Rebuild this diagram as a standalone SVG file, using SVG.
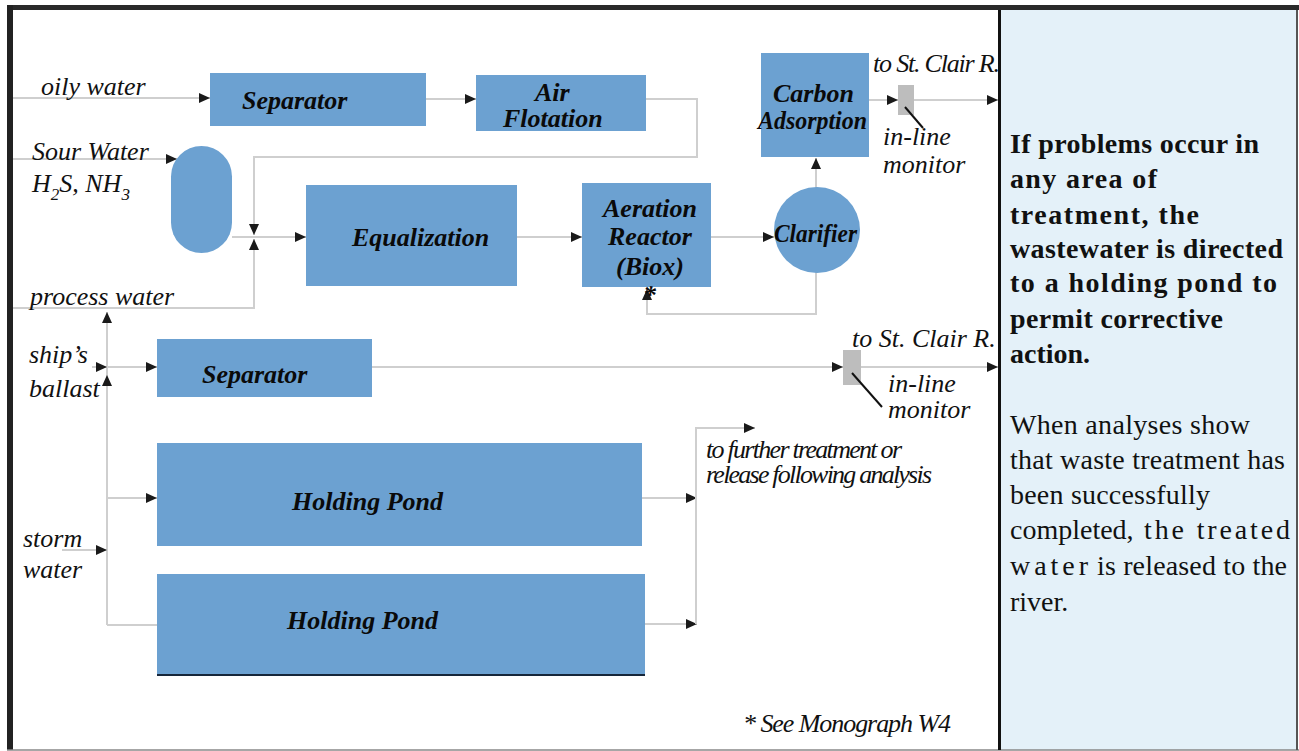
<svg xmlns="http://www.w3.org/2000/svg" width="1299" height="751" viewBox="0 0 1299 751">
<style>
.box{fill:#6ca1d1}
.ln{fill:none;stroke:#cfcfcf;stroke-width:2}
.ptr{fill:none;stroke:#111;stroke-width:2}
.lbl{font-family:"Liberation Serif","Times New Roman",serif;font-style:italic;font-size:26px;fill:#111}
.bi{font-family:"Liberation Serif","Times New Roman",serif;font-style:italic;font-weight:bold;font-size:26px;fill:#0a0a0a}
.pb{font-family:"Liberation Serif","Times New Roman",serif;font-weight:bold;font-size:28px;fill:#111}
.pr{font-family:"Liberation Serif","Times New Roman",serif;font-size:28px;fill:#111}
.mon{fill:#bdbdbd}
</style>
<defs>
<marker id="ah" markerUnits="userSpaceOnUse" markerWidth="12" markerHeight="10" refX="11" refY="5" orient="auto">
<path d="M0,0 L11,5 L0,10 z" fill="#1a1a1a"/>
</marker>
</defs>
<rect x="0" y="0" width="1299" height="751" fill="#ffffff"/>
<g id="frame">
<rect x="999" y="10" width="298" height="740" fill="#e4f1f9"/>
<rect x="7" y="5" width="1292" height="5" fill="#2a2a2a"/>
<rect x="7" y="5" width="6" height="745" fill="#222"/>
<line x1="7" y1="750" x2="1299" y2="750" stroke="#888" stroke-width="1.5"/>
<line x1="999.5" y1="10" x2="999.5" y2="750" stroke="#111" stroke-width="3"/>
<line x1="1297" y1="10" x2="1297" y2="750" stroke="#555" stroke-width="2"/>
</g>
<g id="connectors">
<path class="ln" d="M13,98 H210" marker-end="url(#ah)"/>
<path class="ln" d="M426,99 H476" marker-end="url(#ah)"/>
<path class="ln" d="M646,99 H697 V157 H254 V235" marker-end="url(#ah)"/>
<path class="ln" d="M13,308 H254 V239" marker-end="url(#ah)"/>
<path class="ln" d="M13,159 H177" marker-end="url(#ah)"/>
<path class="ln" d="M232,237 H306" marker-end="url(#ah)"/>
<path class="ln" d="M517,237 H582" marker-end="url(#ah)"/>
<path class="ln" d="M711,237 H774" marker-end="url(#ah)"/>
<path class="ln" d="M816,188 V158" marker-end="url(#ah)"/>
<path class="ln" d="M816,272 V314 H647 V289" marker-end="url(#ah)"/>
<path class="ln" d="M869,100 H898" marker-end="url(#ah)"/>
<path class="ln" d="M914,100 H998" marker-end="url(#ah)"/>
<path class="ln" d="M107,625 V312" marker-end="url(#ah)"/>
<path class="ln" d="M107,386 V375" marker-end="url(#ah)"/>
<path class="ln" d="M92,367 H107" marker-end="url(#ah)"/>
<path class="ln" d="M107,367 H157" marker-end="url(#ah)"/>
<path class="ln" d="M107,498 H157" marker-end="url(#ah)"/>
<path class="ln" d="M107,625 H157"/>
<path class="ln" d="M62,550 H107" marker-end="url(#ah)"/>
<path class="ln" d="M372,367 H843" marker-end="url(#ah)"/>
<path class="ln" d="M861,367 H998" marker-end="url(#ah)"/>
<path class="ln" d="M642,498 H697" marker-end="url(#ah)"/>
<path class="ln" d="M645,624 H697" marker-end="url(#ah)"/>
<path class="ln" d="M696,624 V428 H755" marker-end="url(#ah)"/>
</g>
<g id="separator1"><rect class="box" x="210" y="73" width="216" height="53"/><text class="bi" x="242" y="109">Separator</text></g>
<g id="air-flotation"><rect class="box" x="476" y="75" width="170" height="56"/><text class="bi" x="535" y="101">Air</text><text class="bi" x="503" y="127">Flotation</text></g>
<g id="carbon-adsorption"><rect class="box" x="761" y="53" width="108" height="104"/><text class="bi" x="773" y="102">Carbon</text><text class="bi" x="758" y="129" textLength="109" lengthAdjust="spacingAndGlyphs">Adsorption</text></g>
<g id="sour-water-tank"><rect class="box" x="171" y="146" width="61" height="107" rx="30.5" ry="30.5"/></g>
<g id="equalization"><rect class="box" x="306" y="185" width="211" height="101"/><text class="bi" x="352" y="246">Equalization</text></g>
<g id="aeration-reactor"><rect class="box" x="582" y="183" width="129" height="104"/><text class="bi" x="603" y="217">Aeration</text><text class="bi" x="608" y="245">Reactor</text><text class="bi" x="616" y="275">(Biox)</text><text class="bi" x="643" y="303" font-size="22">*</text></g>
<g id="clarifier"><circle class="box" cx="817" cy="230" r="43"/><text class="bi" x="774" y="242" textLength="83" lengthAdjust="spacingAndGlyphs">Clarifier</text></g>
<g id="separator2"><rect class="box" x="157" y="339" width="215" height="58"/><text class="bi" x="202" y="383">Separator</text></g>
<g id="holding-pond1"><rect class="box" x="157" y="443" width="485" height="103"/><text class="bi" x="292" y="510">Holding Pond</text></g>
<g id="holding-pond2"><rect class="box" x="157" y="574" width="488" height="102"/><line x1="157" y1="675" x2="645" y2="675" stroke="#16263a" stroke-width="2"/><text class="bi" x="287" y="629">Holding Pond</text></g>
<g id="monitor1"><rect class="mon" x="898" y="85" width="16" height="30"/><line class="ptr" x1="905" y1="107" x2="923" y2="128"/><text class="lbl" x="873" y="72" font-size="24" textLength="127">to St. Clair R.</text><text class="lbl" x="883" y="145">in-line</text><text class="lbl" x="883" y="173">monitor</text></g>
<g id="monitor2"><rect class="mon" x="843" y="350" width="18" height="35"/><line class="ptr" x1="852" y1="373" x2="882" y2="407"/><text class="lbl" x="852" y="347">to St. Clair R.</text><text class="lbl" x="888" y="392">in-line</text><text class="lbl" x="888" y="418">monitor</text></g>
<g id="sources">
<text class="lbl" x="41" y="95">oily water</text>
<text class="lbl" x="32" y="160">Sour Water</text>
<text class="lbl" x="32" y="192">H<tspan font-size="17" dy="8">2</tspan><tspan dy="-8">S, NH</tspan><tspan font-size="17" dy="8">3</tspan></text>
<text class="lbl" x="30" y="305">process water</text>
<text class="lbl" x="29" y="363">ship’s</text>
<text class="lbl" x="29" y="397">ballast</text>
<text class="lbl" x="23" y="547">storm</text>
<text class="lbl" x="23" y="578">water</text>
<text class="lbl" x="706" y="458" font-size="20" textLength="196">to further treatment or</text>
<text class="lbl" x="706" y="483" font-size="20" textLength="226">release following analysis</text>
<text class="lbl" x="743" y="732" font-size="23" textLength="208">* See Monograph W4</text>
</g>
<g id="note-panel">
<text class="pb" x="1010" y="153" textLength="249">If problems occur in</text>
<text class="pb" x="1010" y="188" textLength="147">any area of</text>
<text class="pb" x="1010" y="224" textLength="189">treatment, the</text>
<text class="pb" x="1010" y="258" textLength="273">wastewater is directed</text>
<text class="pb" x="1010" y="292" textLength="267">to a holding pond to</text>
<text class="pb" x="1010" y="328" textLength="213">permit corrective</text>
<text class="pb" x="1010" y="363">action.</text>
<text class="pr" x="1010" y="434" textLength="240">When analyses show</text>
<text class="pr" x="1010" y="469" textLength="275">that waste treatment has</text>
<text class="pr" x="1010" y="504" textLength="200">been successfully</text>
<text class="pr" x="1010" y="539">completed,</text>
<text class="pr" x="1144" y="539" textLength="146">the treated</text>
<text class="pr" x="1010" y="575" textLength="78">water</text>
<text class="pr" x="1097" y="575" textLength="190">is released to the</text>
<text class="pr" x="1010" y="611">river.</text>
</g>
</svg>
